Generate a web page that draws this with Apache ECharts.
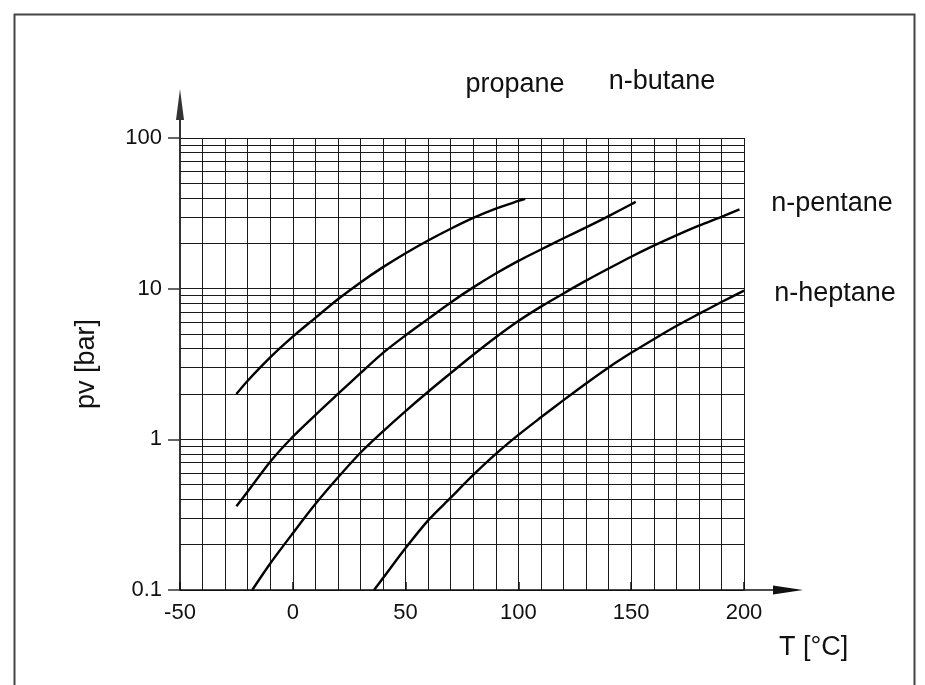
<!DOCTYPE html>
<html><head><meta charset="utf-8">
<script src="https://cdn.jsdelivr.net/npm/echarts@6/dist/echarts.min.js"></script>
<style>html,body{margin:0;padding:0;background:#fff}#c{width:925px;height:685px}</style>
</head><body><div id="c"></div>
<script>
// ---- data ----
const xTicks = [-50, 0, 50, 100, 150, 200];
const yTickLabels = ['0.1', '1', '10', '100'];
const seriesNames = ['propane', 'n-butane', 'n-pentane', 'n-heptane'];

const propaneT = [-25, -20, -10, 0, 10, 20, 30, 40, 50, 60, 70, 80, 90, 100, 103];
const propaneP = [2.0, 2.45, 3.5, 4.8, 6.4, 8.5, 11.0, 13.9, 17.2, 20.9, 25.0, 29.5, 34.0, 38.2, 39.5];

const butaneT = [-25, -20, -10, 0, 10, 20, 30, 40, 50, 60, 70, 80, 90, 100, 110, 120, 130, 140, 150, 152];
const butaneP = [0.36, 0.45, 0.71, 1.04, 1.45, 2.0, 2.75, 3.75, 4.9, 6.3, 8.1, 10.2, 12.6, 15.3, 18.2, 21.6, 25.5, 30.3, 36.3, 37.8];

const pentaneT = [-18, -10, 0, 10, 20, 30, 40, 50, 60, 70, 80, 90, 100, 110, 120, 130, 140, 150, 160, 170, 180, 190, 198];
const pentaneP = [0.1, 0.15, 0.238, 0.372, 0.558, 0.815, 1.13, 1.54, 2.07, 2.75, 3.64, 4.76, 6.1, 7.6, 9.3, 11.3, 13.6, 16.3, 19.3, 22.6, 26.2, 30.0, 33.6];

const heptaneT = [36, 40, 50, 60, 70, 80, 90, 100, 110, 120, 130, 140, 150, 160, 170, 180, 190, 200];
const heptaneP = [0.1, 0.12, 0.19, 0.29, 0.41, 0.58, 0.8, 1.07, 1.40, 1.82, 2.35, 3.0, 3.75, 4.62, 5.65, 6.8, 8.15, 9.7];

// log-grid minor lines (2..9 in every decade)
const decades = [0.1, 1, 10];
const minorMultipliers = [2, 3, 4, 5, 6, 7, 8, 9];

// ---- build ----
const pairs = (xs, ys) => xs.map((x, i) => [x, ys[i]]);
const gridValues = [];
decades.forEach(d => minorMultipliers.forEach(m => gridValues.push(+(d * m).toPrecision(3))));

const FONT = 'Liberation Sans';
const curveStyle = { color: '#000', width: 2.4 };

function curve(name, xs, ys) {
  return {
    name: name, type: 'line', data: pairs(xs, ys), showSymbol: false, smooth: 0.3,
    lineStyle: curveStyle, itemStyle: { color: '#000' }, z: 5, silent: true
  };
}

const yArrow = 'path://M4,0 L8,31 L5,31 L5,49 L3,49 L3,31 L0,31 Z';
const xArrow = 'path://M4.5,0 L9,30 L5.25,30 L5.25,59 L3.75,59 L3.75,30 L0,30 Z';

const chart = echarts.init(document.getElementById('c'), null, { renderer: 'canvas' });
chart.setOption({
  animation: false,
  backgroundColor: '#fff',
  grid: { left: 180, top: 138, width: 564, height: 452, containLabel: false },
  xAxis: {
    type: 'value', min: xTicks[0], max: xTicks[xTicks.length - 1], interval: 50,
    name: 'T [°C]', nameLocation: 'end', nameGap: 35,
    nameTextStyle: { fontFamily: FONT, fontSize: 27, color: '#111', verticalAlign: 'top', padding: [44, 0, 0, 0] },
    axisLine: { show: true, onZero: false, lineStyle: { color: '#111', width: 1.5 }, symbol: ['none', xArrow], symbolSize: [9, 59], symbolOffset: [0, 29.5] },
    axisTick: { show: true, inside: true, length: 8, lineStyle: { color: '#111', width: 1.5 } },
    axisLabel: { fontFamily: FONT, fontSize: 22, color: '#111', margin: 12, formatter: v => String(v) },
    splitLine: { show: true, lineStyle: { color: '#1a1a1a', width: 1 } },
    minorTick: { show: false, splitNumber: 5 },
    minorSplitLine: { show: true, lineStyle: { color: '#1a1a1a', width: 1 } }
  },
  yAxis: {
    type: 'log', logBase: 10, min: 0.1, max: 100,
    name: 'pv [bar]', nameLocation: 'middle', nameGap: 80, nameRotate: 90,
    nameTextStyle: { fontFamily: FONT, fontSize: 27, color: '#111' },
    axisLine: { show: true, onZero: false, lineStyle: { color: '#333', width: 2 }, symbol: ['none', yArrow], symbolSize: [8, 49], symbolOffset: [0, 24.5] },
    axisTick: { show: true, inside: false, length: 12, lineStyle: { color: '#333', width: 1.5 } },
    axisLabel: {
      fontFamily: FONT, fontSize: 22, color: '#111', margin: 18,
      formatter: v => yTickLabels[Math.round(Math.log10(v)) + 1]
    },
    splitLine: { show: true, lineStyle: { color: '#1a1a1a', width: 1 } },
    minorTick: { show: false },
    minorSplitLine: { show: false }
  },
  series: [
    {
      name: 'grid', type: 'line', data: [], silent: true, z: 1,
      markLine: {
        silent: true, symbol: 'none', label: { show: false }, animation: false,
        lineStyle: { color: '#1a1a1a', width: 1, type: 'solid' },
        data: gridValues.map(v => ({ yAxis: v }))
      }
    },
    curve(seriesNames[0], propaneT, propaneP),
    curve(seriesNames[1], butaneT, butaneP),
    curve(seriesNames[2], pentaneT, pentaneP),
    curve(seriesNames[3], heptaneT, heptaneP)
  ],
  graphic: [
    { type: 'rect', left: 12, top: 12, shape: { width: 900, height: 700 }, style: { fill: 'none', stroke: '#444', lineWidth: 2 }, silent: true, z: 0 },
    { type: 'text', x: 515, y: 85, style: { text: seriesNames[0], font: '27px "Liberation Sans"', fill: '#111', textAlign: 'center', textVerticalAlign: 'middle' } },
    { type: 'text', x: 662, y: 82, style: { text: seriesNames[1], font: '27px "Liberation Sans"', fill: '#111', textAlign: 'center', textVerticalAlign: 'middle' } },
    { type: 'text', x: 832, y: 204, style: { text: seriesNames[2], font: '27px "Liberation Sans"', fill: '#111', textAlign: 'center', textVerticalAlign: 'middle' } },
    { type: 'text', x: 835, y: 294, style: { text: seriesNames[3], font: '27px "Liberation Sans"', fill: '#111', textAlign: 'center', textVerticalAlign: 'middle' } }
  ]
});
</script>
</body></html>
